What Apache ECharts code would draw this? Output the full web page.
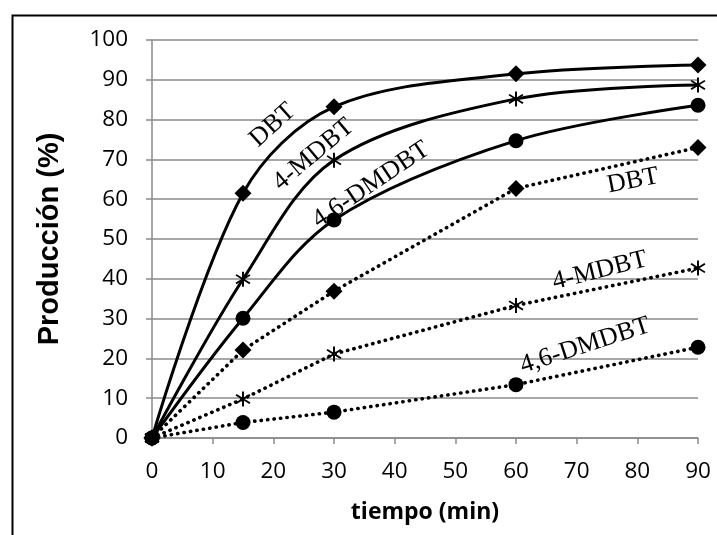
<!DOCTYPE html>
<html>
<head>
<meta charset="utf-8">
<script src="https://cdn.jsdelivr.net/npm/echarts@6/dist/echarts.min.js"></script>
<style>html,body{margin:0;padding:0;background:#fff}#c{width:717px;height:535px}</style>
</head>
<body>
<div id="c"></div>
<script>
const times = [0, 15, 30, 60, 90];
const dbtSolid = [0, 61.5, 83.2, 91.5, 93.7];
const mdbtSolid = [0, 39.9, 69.8, 85.2, 88.7];
const dmdbtSolid = [0, 30.1, 54.8, 74.7, 83.6];
const dbtDotted = [0, 22.1, 36.9, 62.7, 73.0];
const mdbtDotted = [0, 9.8, 21.1, 33.3, 42.7];
const dmdbtDotted = [0, 3.9, 6.5, 13.4, 22.8];
const xTitle = 'tiempo (min)';
const yTitle = 'Producción (%)';
// annotation anchors in data space: [text, x, y, rotation deg]
const annotations = [
  ['DBT', 19.9, 78.6, 42],
  ['4-MDBT', 26.6, 71.2, 40],
  ['4,6-DMDBT', 36.1, 63.6, 34],
  ['DBT', 79.3, 64.6, 11],
  ['4-MDBT', 73.8, 42.0, 14],
  ['4,6-DMDBT', 71.4, 23.2, 18]
];

function asteriskPath() {
  const L = 7, w = 0.8, angs = [90, 35, 145];
  let d = '';
  angs.forEach(a => {
    const r = a * Math.PI / 180, c = Math.cos(r), s = Math.sin(r);
    const px = -s * w, py = c * w;
    const pts = [[L*c+px, L*s+py], [L*c-px, L*s-py], [-L*c-px, -L*s-py], [-L*c+px, -L*s+py]];
    d += 'M' + pts.map(p => p[0].toFixed(2) + ',' + p[1].toFixed(2)).join('L') + 'Z';
  });
  return 'path://' + d;
}
const star = asteriskPath();

function pairs(vals) { return times.map((t, i) => [t, vals[i]]); }

function mk(name, vals, symbol, size, dotted) {
  return {
    name, type: 'line', data: pairs(vals),
    smooth: dotted ? false : 0.33,
    symbol, symbolSize: size, showSymbol: true,
    itemStyle: { color: '#000', borderWidth: 0 },
    lineStyle: dotted ? { color: '#000', width: 3.6, type: [0.3, 6.2], cap: 'round' } : { color: '#000', width: 3 },
    z: 3
  };
}

const chart = echarts.init(document.getElementById('c'), null, { renderer: 'canvas' });
const axisGray = '#8a8a8a';
chart.setOption({
  animation: false,
  backgroundColor: '#fff',
  grid: { left: 152, right: 19, top: 40, bottom: 97, containLabel: false },
  xAxis: {
    type: 'value', min: 0, max: 90, interval: 10,
    name: xTitle, nameLocation: 'middle', nameGap: 63,
    nameTextStyle: { fontFamily: 'Open Sans', fontWeight: 'bold', fontSize: 23, color: '#000' },
    axisLine: { show: true, lineStyle: { color: axisGray, width: 1.5 } },
    axisTick: { show: true, inside: false, length: 6, lineStyle: { color: axisGray, width: 1.5 } },
    axisLabel: { fontFamily: 'Open Sans', fontSize: 22.5, color: '#000', margin: 22 },
    splitLine: { show: false }
  },
  yAxis: {
    type: 'value', min: 0, max: 100, interval: 10,
    name: yTitle, nameLocation: 'middle', nameGap: 88, nameRotate: 90,
    nameTextStyle: { fontFamily: 'Liberation Sans', fontWeight: 'bold', fontSize: 29, color: '#000' },
    axisLine: { show: true, lineStyle: { color: axisGray, width: 1.5 } },
    axisTick: { show: true, inside: false, length: 6, lineStyle: { color: axisGray, width: 1.5 } },
    axisLabel: { fontFamily: 'Open Sans', fontSize: 22.5, color: '#000', margin: 24 },
    splitLine: { show: true, lineStyle: { color: axisGray, width: 1.5 } }
  },
  series: [
    mk('DBT', dbtSolid, 'diamond', 17, false),
    mk('4-MDBT', mdbtSolid, star, 15, false),
    mk('4,6-DMDBT', dmdbtSolid, 'circle', 15, false),
    mk('DBT (dotted)', dbtDotted, 'diamond', 17, true),
    mk('4-MDBT (dotted)', mdbtDotted, star, 15, true),
    mk('4,6-DMDBT (dotted)', dmdbtDotted, 'circle', 15, true)
  ]
});

const graphics = [{
  type: 'rect', left: 10, top: 13, silent: true,
  shape: { x: 0, y: 0, width: 720, height: 540 },
  style: { fill: 'none', stroke: '#000', lineWidth: 2 }, z: 0
}];
annotations.forEach(a => {
  const p = chart.convertToPixel({ gridIndex: 0 }, [a[1], a[2]]);
  graphics.push({
    type: 'text', x: p[0], y: p[1], rotation: a[3] * Math.PI / 180, z: 10,
    style: { text: a[0], fontFamily: 'Liberation Serif', fontSize: 26, fill: '#000', align: 'center', verticalAlign: 'middle' }
  });
});
chart.setOption({ graphic: graphics });
</script>
</body>
</html>
